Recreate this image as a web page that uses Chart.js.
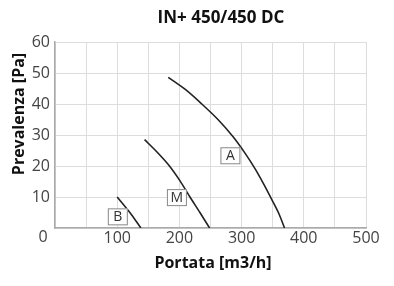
<!DOCTYPE html>
<html>
<head>
<meta charset="utf-8">
<script src="https://cdn.jsdelivr.net/npm/chart.js@4"></script>
<style>
  html,body{margin:0;padding:0;background:#fff;}
  #wrap{width:394px;height:286px;}
</style>
</head>
<body>
<div id="wrap"><canvas id="chart" width="394" height="286"></canvas></div>
<script>
// curve A (alta)
const flowA=[182, 210, 236, 262, 286, 306, 322, 336, 349, 360, 369];
const presA=[48.6, 44.6, 40, 35, 29.5, 24, 19, 14, 9, 4.6, 0];
// curve M (media)
const flowM=[144, 164, 184, 201, 217, 233, 248.5];
const presM=[28.5, 24.5, 20, 15.2, 10, 5, 0];
// curve B (bassa)
const flowB=[100, 123, 138];
const presB=[10, 4.3, 0];
// curve tags: name, flow, pressure
const tagNames=["A", "M", "B"];
const tagFlow=[282, 196, 101];
const tagPres=[23.3, 9.8, 3.6];
const xTicks=[100, 200, 300, 400, 500];

const FONT="'Open Sans', 'Noto Sans', sans-serif";

function pts(xs, ys){
  return xs.map((x, i) => ({x: x, y: ys[i]}));
}

function curve(xs, ys){
  return {
    data: pts(xs, ys),
    borderColor: "#222",
    borderWidth: 1.6,
    pointRadius: 0,
    tension: 0.3,
    fill: false,
  };
}

// draws title, axis titles, the shared 0 and the boxed curve tags
const extras={
  id: "extras",
  afterDraw(chart){
    const c=chart.ctx;
    const xs=chart.scales.x, ys=chart.scales.y;
    c.save();
    c.textAlign="center";
    c.textBaseline="middle";
    c.fillStyle="#111";
    c.font="bold 17px "+FONT;
    c.fillText("IN+ 450/450 DC", 221, 18);
    c.font="bold 16px "+FONT;
    c.fillText("Portata [m3/h]", 213, 263);
    c.save();
    c.translate(19, 114);
    c.rotate(-Math.PI/2);
    c.fillText("Prevalenza [Pa]", 0, 0);
    c.restore();

    c.font="16px "+FONT;
    c.fillStyle="#444";
    c.fillText("0", 43, 237);

    c.font="14px "+FONT;
    tagNames.forEach((name, i) => {
      const px=xs.getPixelForValue(tagFlow[i]);
      const py=ys.getPixelForValue(tagPres[i]);
      c.fillStyle="#fff";
      c.fillRect(px-10, py-8.5, 20, 17);
      c.strokeStyle="#888";
      c.lineWidth=1;
      c.strokeRect(px-9.5, py-8, 19, 16);
      c.fillStyle="#333";
      c.fillText(name, px, py+0.5);
    });
    c.restore();
  }
};

new Chart(document.getElementById("chart"), {
  type: "line",
  data: {
    datasets: [curve(flowA, presA), curve(flowM, presM), curve(flowB, presB)]
  },
  options: {
    responsive: false,
    animation: false,
    layout: {padding: {left: 0, top: 42, right: 28, bottom: 0}},
    plugins: {legend: {display: false}, tooltip: {enabled: false}},
    scales: {
      x: {
        type: "linear",
        min: 0,
        max: 500,
        afterFit(scale){ scale.height=58; },
        afterBuildTicks(scale){
          const t=[];
          for (let v=0; v<=500; v+=50) t.push({value: v});
          scale.ticks=t;
        },
        ticks: {
          autoSkip: false,
          maxRotation: 0,
          padding: 1,
          color: "#444",
          font: {family: FONT, size: 16},
          callback: (v) => xTicks.includes(v) ? String(v) : "",
        },
        grid: {color: "#ddd", drawTicks: false, lineWidth: 1},
        border: {color: "#aaa", width: 1.5},
      },
      y: {
        min: 0,
        max: 60,
        afterFit(scale){ scale.width=55; },
        ticks: {
          stepSize: 10,
          padding: 5,
          color: "#444",
          font: {family: FONT, size: 16},
          callback: (v) => v===0 ? "" : String(v),
        },
        grid: {color: "#ddd", drawTicks: false, lineWidth: 1},
        border: {color: "#aaa", width: 1.5},
      }
    }
  },
  plugins: [extras]
});
</script>
</body>
</html>
